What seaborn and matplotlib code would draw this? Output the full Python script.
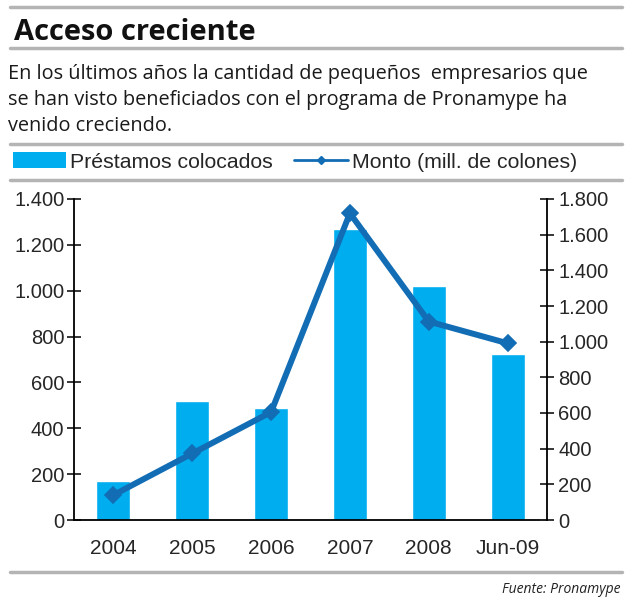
import numpy as np
import pandas as pd
import matplotlib
matplotlib.use("Agg")
import matplotlib.pyplot as plt
from matplotlib.lines import Line2D
from matplotlib.patches import Patch
import seaborn as sns

# data
periodos = ["2004", "2005", "2006", "2007", "2008", "Jun-09"]
prestamos = [172, 517, 489, 1270, 1020, 726]
monto = [140, 373, 605, 1720, 1113, 991]

bar_color = "#00AEEF"
line_color = "#126DB5"
rule_color = "#B4B4B4"

sns.set_style("white")
plt.rcParams["font.family"] = ["Liberation Sans", "DejaVu Sans"]

df = pd.DataFrame({"periodo": periodos, "prestamos": prestamos, "monto": monto})

fig = plt.figure(figsize=(6.3, 6.0), dpi=100)
ax = fig.add_axes([74 / 630, 1 - 520 / 600, (547 - 74) / 630, (520 - 199) / 600])

sns.barplot(data=df, x="periodo", y="prestamos", color=bar_color, width=0.43,
            saturation=1, ax=ax, zorder=2)
ax2 = ax.twinx()
sns.pointplot(data=df, x="periodo", y="monto", color=line_color, markers="D",
              linewidth=4.3, markersize=6.5, ax=ax2, zorder=3)

ax.set_ylim(0, 1400)
ax2.set_ylim(0, 1800)
ax.set_xlim(-0.5, 5.5)
ax.set_yticks(np.arange(0, 1401, 200))
ax2.set_yticks(np.arange(0, 1801, 200))
fmt = lambda v, p: f"{int(v):,}".replace(",", ".")
ax.yaxis.set_major_formatter(matplotlib.ticker.FuncFormatter(fmt))
ax2.yaxis.set_major_formatter(matplotlib.ticker.FuncFormatter(fmt))

# tick marks on category boundaries, labels centred
ax.set_xticks(np.arange(-0.5, 6, 1))
ax.set_xticklabels([])
ax.set_xticks(np.arange(6), minor=True)
ax.set_xticklabels(periodos, minor=True)
ax.tick_params(axis="x", which="minor", length=0, pad=14, labelsize=15)
ax.tick_params(axis="x", which="major", direction="inout", length=10, width=1.3)
ax.tick_params(axis="y", direction="inout", length=10, width=1.3, labelsize=14.5, pad=2)
ax2.tick_params(axis="y", direction="inout", length=10, width=1.3, labelsize=14.5, pad=3)
ax.set_xlabel("")
ax.set_ylabel("")
ax2.set_ylabel("")
ax2.set_xlabel("")

for a in (ax, ax2):
    a.spines["top"].set_visible(False)
    for s in ("left", "right", "bottom"):
        a.spines[s].set_color("black")
        a.spines[s].set_linewidth(1.3)
ax.spines["right"].set_visible(False)
ax2.spines["left"].set_visible(False)
ax2.spines["bottom"].set_visible(False)

# grey rules
for yp in [7, 48, 144, 180, 572]:
    fig.add_artist(Line2D([10 / 630, 622 / 630], [1 - yp / 600] * 2,
                          color=rule_color, lw=2.5, transform=fig.transFigure))

fig.text(14 / 630, 1 - 40 / 600, "Acceso creciente", fontsize=21, fontweight="bold",
         family=["Open Sans", "DejaVu Sans"], va="baseline", color="#111111")
sub = ["En los últimos años la cantidad de pequeños  empresarios que",
       "se han visto beneficiados con el programa de Pronamype ha",
       "venido creciendo."]
for i, line in enumerate(sub):
    fig.text(8 / 630, 1 - (79 + 26 * i) / 600, line, fontsize=14.3,
             family=["Open Sans", "DejaVu Sans"], va="baseline", color="#1a1a1a")

leg_handles = [Patch(facecolor=bar_color, edgecolor="none"),
               Line2D([], [], color=line_color, lw=2, marker="D", markersize=4)]
fig.legend(leg_handles, ["Préstamos colocados", "Monto (mill. de colones)"],
           loc="center left", bbox_to_anchor=(13 / 630, 1 - 162 / 600), ncol=2,
           frameon=False, fontsize=15.3, handlelength=2.5, handleheight=0.75,
           handletextpad=0.2, columnspacing=1.0, borderaxespad=0, borderpad=0)

fig.text(620 / 630, 1 - 593 / 600, "Fuente: Pronamype", fontsize=10, style="italic",
         family=["Open Sans", "DejaVu Sans"], ha="right", va="baseline", color="#222222")

fig.savefig("out.png", dpi=100)
